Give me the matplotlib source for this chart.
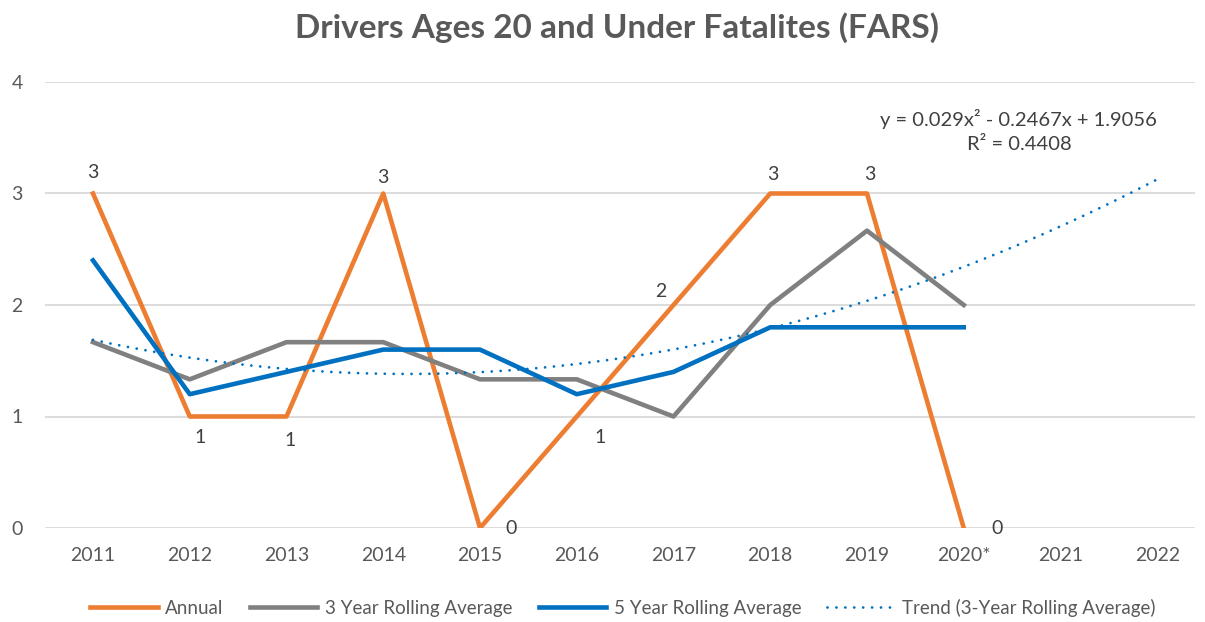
import numpy as np
import matplotlib
matplotlib.use("Agg")
import matplotlib.pyplot as plt

plt.rcParams['font.family'] = ['Lato', 'DejaVu Sans']

years = ['2011', '2012', '2013', '2014', '2015', '2016', '2017', '2018', '2019', '2020*', '2021', '2022']
annual = [3, 1, 1, 3, 0, 1, 2, 3, 3, 0]
roll3 = [5/3, 4/3, 5/3, 5/3, 4/3, 4/3, 1, 2, 8/3, 2]
roll5 = [2.4, 1.2, 1.4, 1.6, 1.6, 1.2, 1.4, 1.8, 1.8, 1.8]
# pixel offsets of the annual data labels
label_offsets = [(0, 21), (10, -21), (4, -24), (0, 16), (31, 0),
                 (23, -21), (-13, 13), (3, 19), (3, 19), (33, 0)]
eq_text = 'y = 0.029x² - 0.2467x + 1.9056\nR² = 0.4408'

orange = '#ED7D31'
gray = '#808080'
blue = '#0070C0'
txt = '#595959'

fig = plt.figure(figsize=(12.05, 6.22), dpi=100)
ax = fig.add_axes([45/1205, 1 - 528/622, 1150/1205, 446/622])

x = np.arange(len(annual))
lw = 3.3
ax.plot(x, annual, color=orange, lw=lw, label='Annual', zorder=3)
ax.plot(x, roll3, color=gray, lw=lw, label='3 Year Rolling Average', zorder=3)
ax.plot(x, roll5, color=blue, lw=lw, label='5 Year Rolling Average', zorder=4)

# polynomial trend of the 3-year average, extended to 2022
coef = np.polyfit(x + 1, roll3, 2)
xt = np.linspace(1, len(years), 200)
ax.plot(xt - 1, np.polyval(coef, xt), color=blue, lw=2.0, linestyle=(0, (0.01, 3.2)),
        dash_capstyle='round', label='Trend (3-Year Rolling Average)', zorder=5)

for xi, v, off in zip(x, annual, label_offsets):
    ax.annotate(str(v), (xi, v), xytext=off, textcoords='offset pixels',
                ha='center', va='center', fontsize=14, color='#404040', zorder=6)

ax.text(9.57, 3.56, eq_text, ha='center', va='center', fontsize=14.5,
        color='#404040', linespacing=1.55)

ax.set_xlim(-0.496, 11.39)
ax.set_ylim(0, 4)
ax.set_xticks(np.arange(len(years)))
ax.set_xticklabels(years)
ax.set_yticks([0, 1, 2, 3, 4])
ax.tick_params(axis='both', length=0, labelsize=14, labelcolor=txt)
ax.tick_params(axis='x', pad=14)
ax.tick_params(axis='y', pad=16)
ax.grid(axis='y', color='#D9D9D9', lw=1.3)
ax.set_axisbelow(True)
for s in ax.spines.values():
    s.set_visible(False)

fig.suptitle('Drivers Ages 20 and Under Fatalites (FARS)', x=617/1205, y=1 - 28/622,
             va='center', fontsize=24, fontweight='bold', color=txt)

fig.legend(loc='center', bbox_to_anchor=(623/1205, 1 - 608/622), ncol=4, frameon=False,
           fontsize=13.5, labelcolor=txt, handlelength=3.6, handletextpad=0.4,
           columnspacing=1.4)

fig.savefig('out.png', dpi=100)
